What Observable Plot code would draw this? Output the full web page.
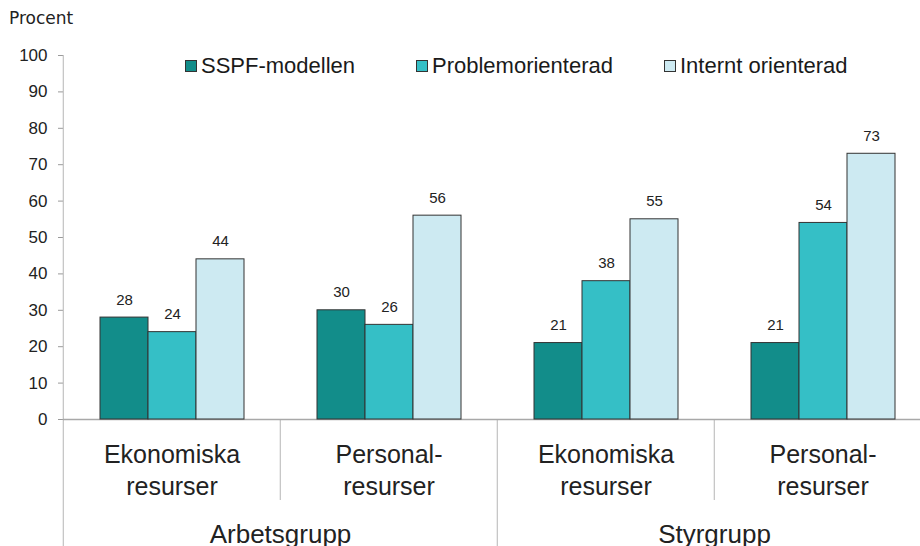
<!DOCTYPE html>
<html>
<head>
<meta charset="utf-8">
<script src="https://cdn.jsdelivr.net/npm/d3@7"></script>
<script src="https://cdn.jsdelivr.net/npm/@observablehq/plot@0.6"></script>
<style>
  html, body { margin: 0; padding: 0; background: #fff; overflow: hidden; }
  #wrap { position: relative; width: 920px; height: 546px; overflow: hidden; }
  #ylabel { position: absolute; left: 9px; top: 10px; font: 17px "DejaVu Sans", Verdana, sans-serif; line-height: 17px; color: #222; }
  .item { position: absolute; top: 55px; height: 22px; line-height: 22px; display: flex; align-items: center;
          font: 22px "Liberation Sans", Arial, sans-serif; color: #1a1a1a; white-space: nowrap; }
  .sw { width: 10px; height: 10px; border: 1px solid #333; margin-right: 4px; }
  #chart { position: absolute; left: 0; top: 0; }
  g[aria-label="catlabels"] text, g[aria-label="grouplabels"] text { letter-spacing: 0.7px; }
</style>
</head>
<body>
<div id="wrap">
  <div id="chart"></div>
  <div id="ylabel">Procent</div>
  <div id="legend"></div>
</div>
<script>
// ---- data ----
const groups = ["Arbetsgrupp", "Arbetsgrupp", "Styrgrupp", "Styrgrupp"];
const categories = ["Ekonomiska\nresurser", "Personal-\nresurser", "Ekonomiska\nresurser", "Personal-\nresurser"];
const series = ["SSPF-modellen", "Problemorienterad", "Internt orienterad"];
const sspfValues = [28, 30, 21, 21];
const problemValues = [24, 26, 38, 54];
const interntValues = [44, 56, 55, 73];
const colors = ["#128d8a", "#35bfc6", "#cdeaf2"];
const yTicks = [0, 10, 20, 30, 40, 50, 60, 70, 80, 90, 100];
const legendLeft = [185, 416, 664];

// ---- tables built from the arrays ----
const seriesValues = [sspfValues, problemValues, interntValues];
const rows = [];
categories.forEach((c, i) => series.forEach((s, j) => rows.push({cat: i, series: s, value: seriesValues[j][i]})));
const cats = categories.map((label, i) => ({
  i, label, group: groups[i], groupStart: i === 0 || groups[i] !== groups[i - 1]
}));

// ---- legend ----
const legend = document.getElementById("legend");
series.forEach((s, j) => {
  const item = document.createElement("div");
  item.className = "item";
  item.style.left = legendLeft[j] + "px";
  const sw = document.createElement("span");
  sw.className = "sw";
  sw.style.background = colors[j];
  const t = document.createElement("span");
  t.textContent = s;
  item.append(sw, t);
  legend.append(item);
});

// ---- chart ----
const facetW = (920 - 62 + 12) / categories.length;
const chart = Plot.plot({
  width: 920,
  height: 546,
  marginTop: 55,
  marginBottom: 127,
  marginLeft: 62,
  marginRight: -12,
  fx: {domain: cats.map(d => d.i), padding: 0, axis: null, label: null},
  x: {domain: series, paddingInner: 0, paddingOuter: 0.735, axis: null, label: null},
  y: {domain: [0, 100], label: null},
  color: {domain: series, range: colors},
  style: {fontFamily: '"Liberation Sans", Arial, sans-serif', fontSize: "17px", color: "#222", background: "white", overflow: "visible"},
  marks: [
    Plot.axisY({ticks: yTicks, tickSize: 5, tickPadding: 11, stroke: "#9a9a9a", fill: "#222", fontSize: 17, label: null}),
    // y axis line (extends down through the category area)
    Plot.ruleX(cats.filter(d => d.i === 0), {fx: "i", x: null, y1: 100, y2: 0, dx: -facetW / 2, insetBottom: -127, stroke: "#b5b5b5"}),
    // group separators (long)
    Plot.ruleX(cats.filter(d => d.groupStart && d.i !== 0), {fx: "i", x: null, y1: 0, y2: 0, dx: -facetW / 2, insetBottom: -127, stroke: "#b5b5b5"}),
    // category separators (short)
    Plot.ruleX(cats.filter(d => !d.groupStart), {fx: "i", x: null, y1: 0, y2: 0, dx: -facetW / 2, insetBottom: -81, stroke: "#b5b5b5"}),
    Plot.ruleY([0], {stroke: "#a8a8a8", strokeWidth: 1.5}),
    Plot.barY(rows, {fx: "cat", x: "series", y: "value", fill: "series", stroke: "#333", strokeWidth: 1}),
    Plot.text(rows, {fx: "cat", x: "series", y: "value", text: d => String(d.value), lineAnchor: "bottom", dy: -13, fontSize: 15, fill: "#222"}),
    Plot.text(cats, {fx: "i", text: "label", frameAnchor: "bottom", lineAnchor: "top", dy: 20, lineHeight: 1.3, fontSize: 25, fill: "#222", ariaLabel: "catlabels"}),
    Plot.text(cats.filter(d => d.groupStart), {fx: "i", text: "group", frameAnchor: "bottom-right", textAnchor: "middle", lineAnchor: "top", dy: 105, fontSize: 26, fill: "#222", ariaLabel: "grouplabels"})
  ]
});
document.getElementById("chart").append(chart);
</script>
</body>
</html>
